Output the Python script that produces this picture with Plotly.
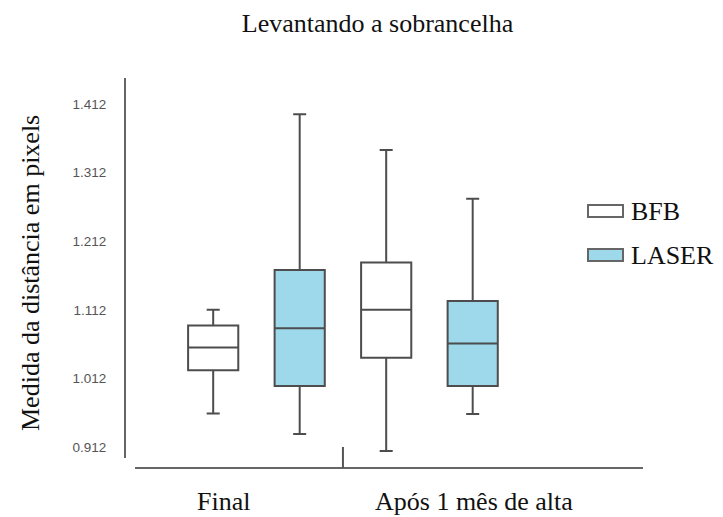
import plotly.graph_objects as go

# Box-plot summaries (distance measured in pixels)
categories = ["Final", "Após 1 mês de alta"]
series_names = ["BFB", "LASER"]

bfb_lower = [0.961, 0.906]
bfb_q1 = [1.024, 1.042]
bfb_median = [1.057, 1.112]
bfb_q3 = [1.089, 1.181]
bfb_upper = [1.112, 1.345]

laser_lower = [0.931, 0.960]
laser_q1 = [1.001, 1.001]
laser_median = [1.085, 1.063]
laser_q3 = [1.170, 1.125]
laser_upper = [1.397, 1.274]

y_ticks = [0.912, 1.012, 1.112, 1.212, 1.312, 1.412]

W, H = 723, 517
L, T, R, B = 126, 78, 643, 458  # plot area in pixels


def px_x(p):
    return (p - L) / (R - L)


def px_y(p):
    return (B - p) / (B - T)


SERIF = "Liberation Serif, Times New Roman, serif"
LINE = "#4d4d4d"
FILLS = ["#ffffff", "#9dd9ea"]

fig = go.Figure()
for name, fill, lo, q1, med, q3, up in [
    (series_names[0], FILLS[0], bfb_lower, bfb_q1, bfb_median, bfb_q3, bfb_upper),
    (series_names[1], FILLS[1], laser_lower, laser_q1, laser_median, laser_q3, laser_upper),
]:
    fig.add_trace(go.Box(
        name=name,
        x=categories,
        lowerfence=lo, q1=q1, median=med, q3=q3, upperfence=up,
        fillcolor=fill,
        line=dict(color=LINE, width=2),
        whiskerwidth=0.26,
        boxpoints=False,
        showlegend=False,
        hoverinfo="skip",
    ))

fig.update_layout(
    width=W, height=H,
    margin=dict(l=L, r=W - R, t=T, b=H - B),
    paper_bgcolor="white", plot_bgcolor="white",
    boxmode="group", boxgap=0.0, boxgroupgap=0.42,
    title=dict(text="Levantando a sobrancelha", x=377.5 / W, xanchor="center",
               y=1 - 23 / H, yanchor="middle",
               font=dict(family=SERIF, size=26, color="#111111")),
    xaxis=dict(range=[-0.754, -0.754 + (R - L) / 173], showline=False,
               showgrid=False, zeroline=False, showticklabels=False, ticks=""),
    yaxis=dict(range=[0.912 - (B - 447) / 686, 1.412 + (104 - T) / 686],
               showline=True, linecolor="#666666", linewidth=2,
               showgrid=False, zeroline=False, ticks="",
               tickvals=y_ticks, ticktext=[f"{v:.3f}" for v in y_ticks],
               ticklabelstandoff=15,
               tickfont=dict(family="Liberation Sans, Arial, sans-serif",
                             size=13.5, color="#555555")),
)

# Baseline and separator tick between the two groups
fig.add_shape(type="line", xref="paper", yref="paper",
              x0=px_x(135), x1=px_x(643), y0=px_y(468), y1=px_y(468),
              line=dict(color="#666666", width=2))
fig.add_shape(type="line", xref="x", yref="paper",
              x0=0.5, x1=0.5, y0=px_y(447), y1=px_y(468),
              line=dict(color="#555555", width=2))

# Group labels under the baseline
for label, cx in zip(categories, [223.5, 474]):
    fig.add_annotation(text=label, xref="paper", yref="paper",
                       x=px_x(cx), y=px_y(501), xanchor="center", yanchor="middle",
                       showarrow=False, font=dict(family=SERIF, size=26, color="#111111"))

# Y-axis title
fig.add_annotation(text="Medida da distância em pixels", xref="paper", yref="paper",
                   x=px_x(30), y=px_y(273), xanchor="center", yanchor="middle",
                   textangle=-90, showarrow=False,
                   font=dict(family=SERIF, size=26, color="#111111"))

# Legend drawn as swatches with labels
for name, fill, cy in zip(series_names, FILLS, [211, 255]):
    fig.add_shape(type="rect", xref="paper", yref="paper",
                  x0=px_x(588), x1=px_x(623), y0=px_y(cy - 6), y1=px_y(cy + 6),
                  fillcolor=fill, line=dict(color="#666666", width=2))
    fig.add_annotation(text=name, xref="paper", yref="paper",
                       x=px_x(629), y=px_y(cy), xanchor="left", yanchor="middle",
                       showarrow=False, font=dict(family=SERIF, size=26, color="#111111"))

fig.write_html("out.html")
